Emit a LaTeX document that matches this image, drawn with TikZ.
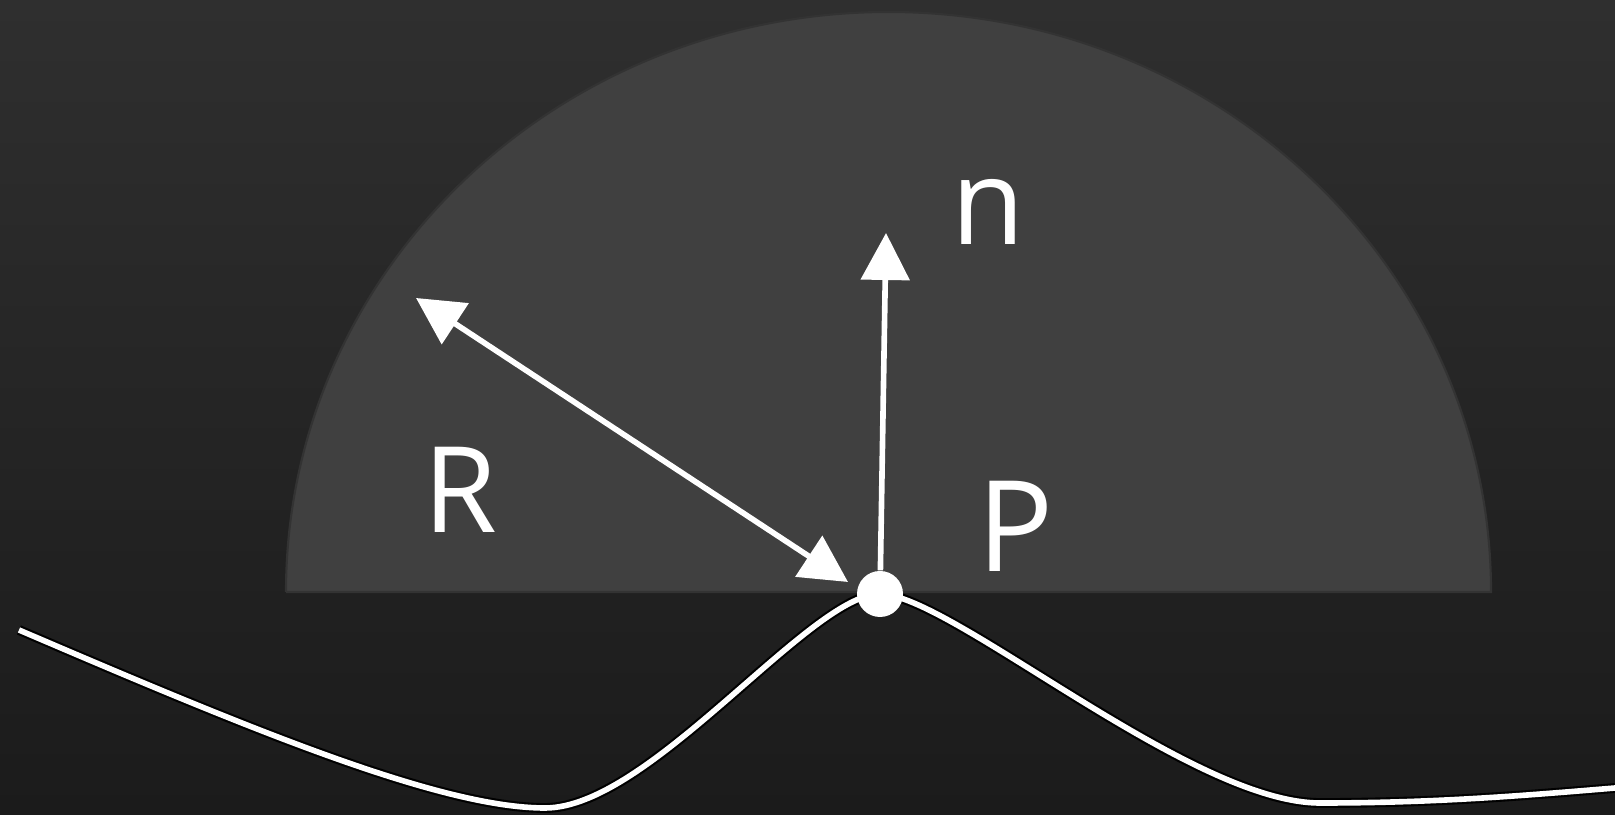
\documentclass[tikz,border=0pt]{standalone}
\usepackage{fontspec}
\setmainfont{Open Sans}
\usetikzlibrary{arrows.meta}
\definecolor{bgtop}{HTML}{2F2F2F}
\definecolor{bgbot}{HTML}{1B1B1B}
\definecolor{dome}{HTML}{404040}
\begin{document}
\begin{tikzpicture}[
    >={Triangle[length=4.7mm, width=4.8mm]},
    vec/.style={white, line width=1.6pt},
    lbl/.style={white, inner sep=0pt, font=\fontsize{34}{40}\selectfont},
  ]
  % background
  \shade[top color=bgtop, bottom color=bgbot] (0,0) rectangle (16.15,8.15);
  \useasboundingbox (0,0) rectangle (16.15,8.15);

  % half ball of radius R
  \filldraw[fill=dome, draw=black!80, line width=0.6pt]
    (2.86,2.23) -- (14.91,2.23)
    arc[start angle=0, end angle=180, x radius=6.025, y radius=5.80] -- cycle;

  % surface
  \draw[draw=black, line width=0.6pt, double=white, double distance=1.6pt]
    (0.19,1.85) .. controls (2.5,0.86) and (4.4,0.07) .. (5.45,0.07)
    .. controls (6.5,0.07) and (8.1,2.21) .. (8.80,2.21)
    .. controls (9.5,2.21) and (11.9,0.12) .. (13.20,0.12)
    .. controls (14.4,0.12) and (15.3,0.20) .. (16.15,0.27);

  % point, normal and radius
  \coordinate (P) at (8.80,2.21);
  \coordinate (ntip) at (8.86,5.82);
  \coordinate (Rtop) at (4.16,5.17);
  \coordinate (Rlow) at (8.48,2.33);
  \node[circle, fill=white, minimum size=4.6mm, inner sep=0pt] (dot) at (P) {};
  \draw[vec, ->] (dot) -- (ntip);
  \draw[vec, <->] (Rlow) -- (Rtop);

  \node[lbl] (R) at (4.60,3.25) {R};
  \node[lbl, font=\fontsize{36}{42}\selectfont] (Plbl) at (10.16,2.89) {P};
  \node[lbl] (n) at (9.88,6.03) {n};
\end{tikzpicture}
\end{document}
